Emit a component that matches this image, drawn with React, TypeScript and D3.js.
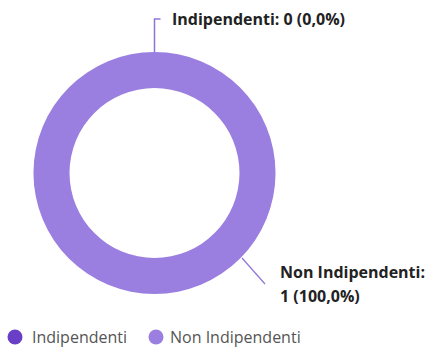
import React from "react";
import * as d3 from "d3";

const categories = ["Indipendenti", "Non Indipendenti"];
const values = [0, 1];
const colors = ["#6a3fc8", "#9a7ee0"];
const labels = ["Indipendenti: 0 (0,0%)", "Non Indipendenti:|1 (100,0%)"];

export default function App() {
  const W = 430, H = 349;
  const cx = 154.5, cy = 173, R = 121, r = 85;
  const pie = d3.pie<number>().sort(null)(values);
  const arc = d3.arc<d3.PieArcDatum<number>>().innerRadius(r).outerRadius(R);
  const font = "'Open Sans', 'Noto Sans', sans-serif";
  return (
    <svg width={W} height={H} style={{ position: "absolute", left: 0, top: 0 }}>
      <g transform={`translate(${cx},${cy})`}>
        {pie.map((p, i) => (
          <path key={i} d={arc(p) || ""} fill={colors[i]} />
        ))}
      </g>
      <polyline points={`${cx},${cy - R} ${cx},19 ${cx + 6},19`} fill="none" stroke="#8f74d8" strokeWidth={1.5} />
      <text x={172} y={25} fontFamily={font} fontWeight={700} fontSize={16} fill="#222">{labels[0]}</text>
      <line x1={242} y1={258} x2={265} y2={284} stroke="#8f74d8" strokeWidth={1.2} />
      <text x={280} y={278} fontFamily={font} fontWeight={700} fontSize={16} fill="#222">
        {labels[1].split("|").map((s, i) => (
          <tspan key={i} x={280} dy={i === 0 ? 0 : 24}>{s}</tspan>
        ))}
      </text>
      {categories.map((c, i) => {
        const x = i === 0 ? 15 : 156;
        return (
          <g key={c}>
            <circle cx={x} cy={337} r={7.5} fill={colors[i]} />
            <text x={x + (i === 0 ? 17 : 14)} y={343} fontFamily={font} fontSize={16} fill="#555">{c}</text>
          </g>
        );
      })}
    </svg>
  );
}
